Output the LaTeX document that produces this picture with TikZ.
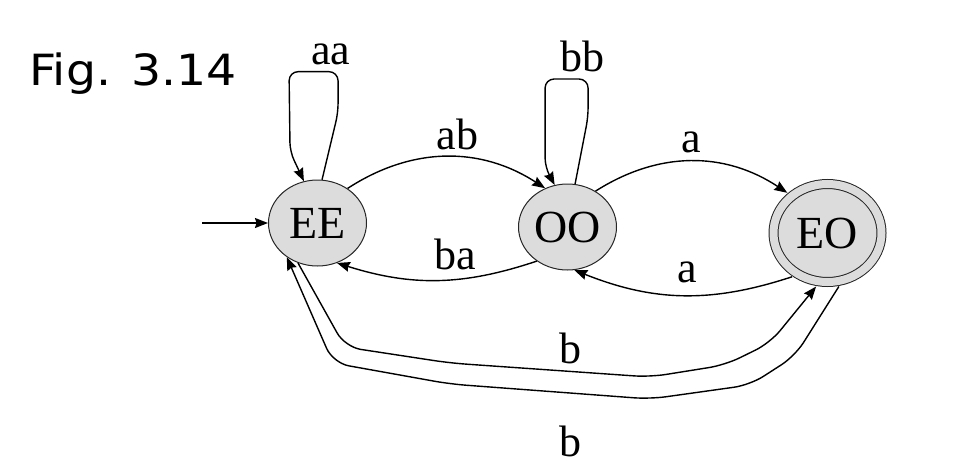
\documentclass[tikz,border=0pt]{standalone}
\usepackage{fontspec}
\setmainfont{Liberation Serif}
\newfontfamily\figfont[FakeStretch=1.1]{DejaVu Sans}
\usetikzlibrary{arrows.meta,positioning,shapes.geometric}
\definecolor{statefill}{HTML}{DCDCDC}

\begin{document}
\begin{tikzpicture}[
  x=1pt, y=1pt,
  font=\fontsize{44}{50}\selectfont,
  state/.style={ellipse, draw=black!85, line width=1pt, fill=statefill,
    inner sep=0pt, minimum width=98pt, minimum height=86pt,
    font=\fontsize{46}{50}\selectfont},
  accept/.style={state, double=statefill, double distance=8pt,
    minimum width=108pt, minimum height=98pt, outer sep=5.5pt},
  lbl/.style={inner sep=0pt},
  arr/.style={-{Stealth[length=13pt,width=10pt,inset=1.5pt]}, line width=1.4pt}
]
\useasboundingbox (0,0) rectangle (964,-466);

\node[anchor=base west, inner sep=0pt, font=\figfont\fontsize{43}{48}\selectfont]
  (fig) at (29,-85) {Fig.\hspace{20pt}3.14};

\node[state] (EE) at (317.5,-223) {EE};
\node[state, right=151pt of EE, yshift=-4pt] (OO) {OO};
\node[accept, right=151pt of OO, yshift=-6pt] (EO) {EO};
\coordinate[left=66pt of EE] (start);

\draw[arr] (start) -- (EE.west);

\draw[arr, rounded corners=9pt] (EE.84) -- ++(16,67) -- ++(0,41)
  -- ++(-49,0) node[lbl, pos=0.15, above=6pt] {aa} -- ++(1,-80) -- (EE.108);
\draw[arr, rounded corners=9pt] (OO.80) -- ++(13,67) -- ++(0,38)
  -- ++(-43,0) node[lbl, pos=0.13, above=6pt] {bb} -- ++(0,-88) -- (OO.107);

\draw[arr] (EE.49) to[bend left=33] node[lbl, above=6pt, xshift=11pt] {ab} (OO.120);
\draw[arr] (OO.228) to[bend left=18] node[lbl, above=10pt, xshift=18pt] {ba} (EE.296);
\draw[arr] (OO.52) to[bend left=33] node[lbl, above=8pt] {a} (EO.135);
\draw[arr] (EO.231) to[bend left=20] node[lbl, above=12pt, xshift=5pt] {a} (OO.279);

\draw[arr, rounded corners=16pt] (EE.244) -- (345,-347) -- (450,-363)
  -- (650,-377) node[lbl, pos=0.6, above=7pt] {b} -- (725,-365) -- (770,-343) -- (EO.258);
\draw[arr, rounded corners=16pt] (EO.282) -- (795,-356) -- (750,-385)
  -- (650,-399) -- (450,-384) node[lbl, pos=0.4, below=32pt] {b} -- (333,-363) -- (EE.228);
\end{tikzpicture}
\end{document}
